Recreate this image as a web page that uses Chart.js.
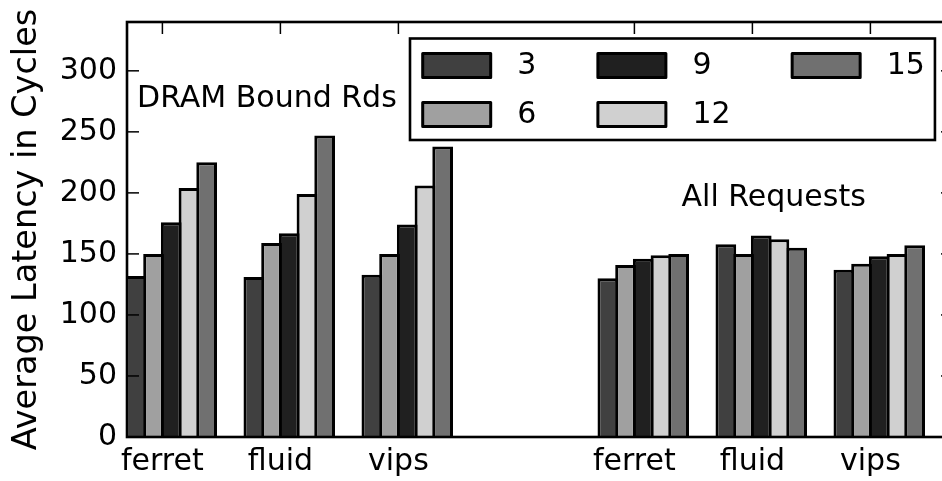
<!DOCTYPE html>
<html>
<head>
<meta charset="utf-8">
<script src="https://cdn.jsdelivr.net/npm/chart.js@4/dist/chart.umd.min.js"></script>
<style>
  html, body { margin: 0; padding: 0; background: #fff; overflow: hidden; }
  #wrap { width: 942px; height: 481px; overflow: hidden; }
  canvas { display: block; }
</style>
</head>
<body>
<div id="wrap"><canvas id="chart" width="960" height="481"></canvas></div>
<script>
// ---- data -------------------------------------------------------------
const panels = ['DRAM Bound Rds', 'All Requests'];
const benchmarks = ['ferret', 'fluid', 'vips'];
const seriesNames = ['3', '6', '9', '12', '15'];
const seriesColors = ['#404040', '#a0a0a0', '#202020', '#d0d0d0', '#707070'];

// average latency (cycles); order: DRAM ferret, fluid, vips | All ferret, fluid, vips
const lat3  = [132, 131, 133, 130, 158, 137];
const lat6  = [150, 159, 150, 141, 150, 142];
const lat9  = [176, 167, 174, 146, 165, 148];
const lat12 = [204, 199, 206, 149, 162, 150];
const lat15 = [225, 247, 238, 150, 155, 157];

const yTicks = [0, 50, 100, 150, 200, 250, 300];
const tickLabels = ['ferret', 'fluid', 'vips', 'ferret', 'fluid', 'vips'];

// ---- layout helpers ---------------------------------------------------
const seriesValues = [lat3, lat6, lat9, lat12, lat15];
const GROUP_W = 0.75;            // five bars of 0.15 each
const BAR_W = GROUP_W / seriesNames.length;
// one empty slot separates the two panels
const slots = [];
panels.forEach((p, pi) => benchmarks.forEach((b, bi) => slots.push(pi * (benchmarks.length + 1) + bi)));
const tickPositions = slots.map(s => s + 2 * BAR_W);
const captionAnchors = [[0.085, 270], [4.7, 189]];

const FONT = '"DejaVu Sans", "Liberation Sans", sans-serif';
const TXT = 30;

const datasets = seriesNames.map((name, k) => ({
  label: name,
  data: slots.map((s, j) => ({ x: s + GROUP_W / 2, y: seriesValues[k][j] })),
  backgroundColor: seriesColors[k],
  borderColor: '#000',
  borderWidth: 3,
  borderSkipped: 'start',
  categoryPercentage: GROUP_W,
  barPercentage: 1.17   // neighbouring outlines overlap into one shared edge
}));

function seg(ctx, x1, y1, x2, y2) {
  ctx.beginPath(); ctx.moveTo(x1, y1); ctx.lineTo(x2, y2); ctx.stroke();
}

// frame, inward tick marks and panel captions
const framePlugin = {
  id: 'frame',
  afterDatasetsDraw(chart) {
    const { ctx, chartArea: a, scales: { x, y } } = chart;
    ctx.save();
    ctx.strokeStyle = '#000';
    ctx.lineWidth = 1.5;
    const TL = 12;
    x.ticks.forEach(t => {
      const px = x.getPixelForValue(t.value);
      seg(ctx, px, a.top, px, a.top + TL);
      seg(ctx, px, a.bottom, px, a.bottom - TL);
    });
    y.ticks.forEach(t => {
      const py = y.getPixelForValue(t.value);
      seg(ctx, a.left, py, a.left + TL, py);
      seg(ctx, a.right, py, a.right - TL, py);
    });
    ctx.lineWidth = 2.6;
    ctx.strokeRect(a.left, a.top, a.right - a.left, a.bottom - a.top);

    ctx.fillStyle = '#000';
    ctx.font = `${TXT}px ${FONT}`;
    ctx.textAlign = 'left';
    ctx.textBaseline = 'alphabetic';
    panels.forEach((p, i) => {
      const [vx, vy] = captionAnchors[i];
      ctx.fillText(p, x.getPixelForValue(vx), y.getPixelForValue(vy));
    });
    ctx.restore();
  },
  afterDraw(chart) {
    // legend: three columns, filled column by column
    const { ctx } = chart;
    const ds = chart.data.datasets;
    const L = { left: 410, top: 38.5, padL: 12.7, padR: 10, firstRow: 27, rowPitch: 49,
                swW: 68, swH: 24, gap: 26.6, colGap: 61.5, rows: 2, bottom: 140 };
    ctx.save();
    ctx.font = `${TXT}px ${FONT}`;
    const nCols = Math.ceil(ds.length / L.rows);
    const cols = [];
    let cx = L.left + L.padL;
    for (let c = 0; c < nCols; c++) {
      const items = ds.slice(c * L.rows, c * L.rows + L.rows);
      const tw = Math.max(...items.map(d => ctx.measureText(d.label).width));
      cols.push({ x: cx, items });
      cx += L.swW + L.gap + tw + (c < nCols - 1 ? L.colGap : 0);
    }
    const right = cx + L.padR;
    ctx.fillStyle = '#fff';
    ctx.fillRect(L.left, L.top, right - L.left, L.bottom - L.top);
    ctx.strokeStyle = '#000';
    ctx.lineWidth = 2.6;
    ctx.strokeRect(L.left, L.top, right - L.left, L.bottom - L.top);
    ctx.lineJoin = 'round';
    ctx.textAlign = 'left';
    ctx.textBaseline = 'middle';
    cols.forEach(col => {
      col.items.forEach((d, r) => {
        const cy = L.top + L.firstRow + r * L.rowPitch;
        ctx.fillStyle = d.backgroundColor;
        ctx.fillRect(col.x, cy - L.swH / 2, L.swW, L.swH);
        ctx.lineWidth = 3;
        ctx.strokeRect(col.x, cy - L.swH / 2, L.swW, L.swH);
        ctx.fillStyle = '#000';
        ctx.fillText(d.label, col.x + L.swW + L.gap, cy + 1);
      });
    });
    ctx.restore();
  }
};

new Chart(document.getElementById('chart'), {
  type: 'bar',
  data: { datasets },
  plugins: [framePlugin],
  options: {
    responsive: false,
    animation: false,
    devicePixelRatio: 1,
    layout: { padding: { top: 22, right: 7, left: 0, bottom: 0 } },
    plugins: { legend: { display: false }, tooltip: { enabled: false } },
    scales: {
      x: {
        type: 'linear',
        min: 0,
        max: 7,
        offset: false,
        grid: { display: false, offset: false, drawTicks: false },
        border: { display: false },
        afterBuildTicks(scale) { scale.ticks = tickPositions.map(v => ({ value: v })); },
        afterFit(scale) {
          scale.height = 44;
          scale.paddingLeft = 0; scale.paddingRight = 0;
        },
        ticks: {
          autoSkip: false,
          maxRotation: 0,
          padding: 7,
          color: '#000',
          font: { family: FONT, size: TXT },
          callback: (v, i) => tickLabels[i]
        }
      },
      y: {
        min: 0,
        max: 340,
        grid: { display: false, drawTicks: false },
        border: { display: false },
        afterBuildTicks(scale) { scale.ticks = yTicks.map(v => ({ value: v })); },
        afterFit(scale) {
          scale.width = 127;
          scale.paddingTop = 0; scale.paddingBottom = 0;
        },
        ticks: {
          padding: 10,
          color: '#000',
          font: { family: FONT, size: TXT }
        },
        title: {
          display: true,
          text: 'Average Latency in Cycles',
          color: '#000',
          padding: { top: 7, bottom: 0 },
          font: { family: FONT, size: 33.5 }
        }
      }
    }
  }
});
</script>
</body>
</html>
